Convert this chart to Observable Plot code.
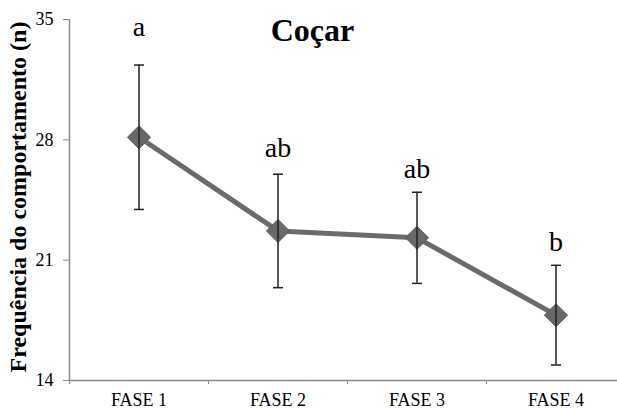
<!DOCTYPE html>
<html>
<head>
<meta charset="utf-8">
<script src="https://cdn.jsdelivr.net/npm/d3@7"></script>
<script src="https://cdn.jsdelivr.net/npm/@observablehq/plot@0.6"></script>
<style>
  html, body { margin: 0; padding: 0; background: white; overflow: hidden; }
  #wrap { position: relative; width: 617px; height: 409px; }
  #title { position: absolute; left: 0; width: 625px; top: 14px; text-align: center;
           font-family: "Liberation Serif", "Times New Roman", serif; font-weight: bold;
           font-size: 32px; line-height: 1; color: #000; }
</style>
</head>
<body>
<div id="wrap"><div id="title"></div></div>
<script>
const title = "Coçar";
const yLabel = "Frequência do comportamento (n)";
const phases = ["FASE 1", "FASE 2", "FASE 3", "FASE 4"];
const means = [28.15, 22.7, 22.3, 17.8];
const errors = [4.2, 3.3, 2.65, 2.9];
const letters = ["a", "ab", "ab", "b"];
const letterY = [34.55, 27.5, 26.3, 22.05];
const yTicks = [14, 21, 28, 35];

const data = phases.map((p, i) => ({
  idx: i + 1, phase: p, mean: means[i],
  lo: means[i] - errors[i], hi: means[i] + errors[i],
  letter: letters[i], ly: letterY[i]
}));
const bounds = d3.range(phases.length + 1).map(i => i + 0.5);

const capSymbol = { draw(ctx, size) { ctx.moveTo(-5, 0); ctx.lineTo(5, 0); } };

document.getElementById("title").textContent = title;

const chart = Plot.plot({
  width: 617, height: 409,
  marginLeft: 69, marginRight: -8, marginTop: 19, marginBottom: 29,
  x: { domain: [0.5, phases.length + 0.5], axis: null },
  y: { domain: [14, 35], axis: null },
  style: { fontFamily: "Liberation Serif, Times New Roman, serif", fontSize: "18px", color: "#000", background: "white" },
  marks: [
    Plot.axisY({ ticks: yTicks, tickSize: 6, tickPadding: 10, stroke: "#8c8c8c", fill: "#000", fontSize: 18, label: null }),
    Plot.axisX({ ticks: bounds, tickSize: 4, tickFormat: () => "", stroke: "#8c8c8c", label: null }),
    Plot.axisX({ ticks: d3.range(1, phases.length + 1), tickSize: 0, tickPadding: 13,
                 tickFormat: i => phases[i - 1], fill: "#000", fontSize: 18, label: null }),
    Plot.ruleY([14], { stroke: "#8c8c8c", strokeWidth: 1.5 }),
    Plot.ruleX([0.5], { stroke: "#8c8c8c", strokeWidth: 1.5 }),
    Plot.text([yLabel], { frameAnchor: "left", textAnchor: "middle", dx: -51, dy: -3, rotate: -90, fontWeight: "bold", fontSize: 24, fill: "#000" }),
    Plot.line(data, { x: "idx", y: "mean", stroke: "#6b6b6b", strokeWidth: 5 }),
    Plot.dot(data, { x: "idx", y: "mean", symbol: "diamond2", r: 10.4, fill: "#686868", stroke: "#5a5a5a", strokeWidth: 1 }),
    Plot.ruleX(data, { x: "idx", y1: "lo", y2: "hi", stroke: "#222", strokeWidth: 1.5 }),
    Plot.dot(data, { x: "idx", y: "lo", symbol: capSymbol, stroke: "#222", strokeWidth: 1.5, r: 5 }),
    Plot.dot(data, { x: "idx", y: "hi", symbol: capSymbol, stroke: "#222", strokeWidth: 1.5, r: 5 }),
    Plot.text(data, { x: "idx", y: "ly", text: "letter", fontSize: 28, fill: "#000", lineAnchor: "middle" })
  ]
});
document.getElementById("wrap").appendChild(chart);
</script>
</body>
</html>
